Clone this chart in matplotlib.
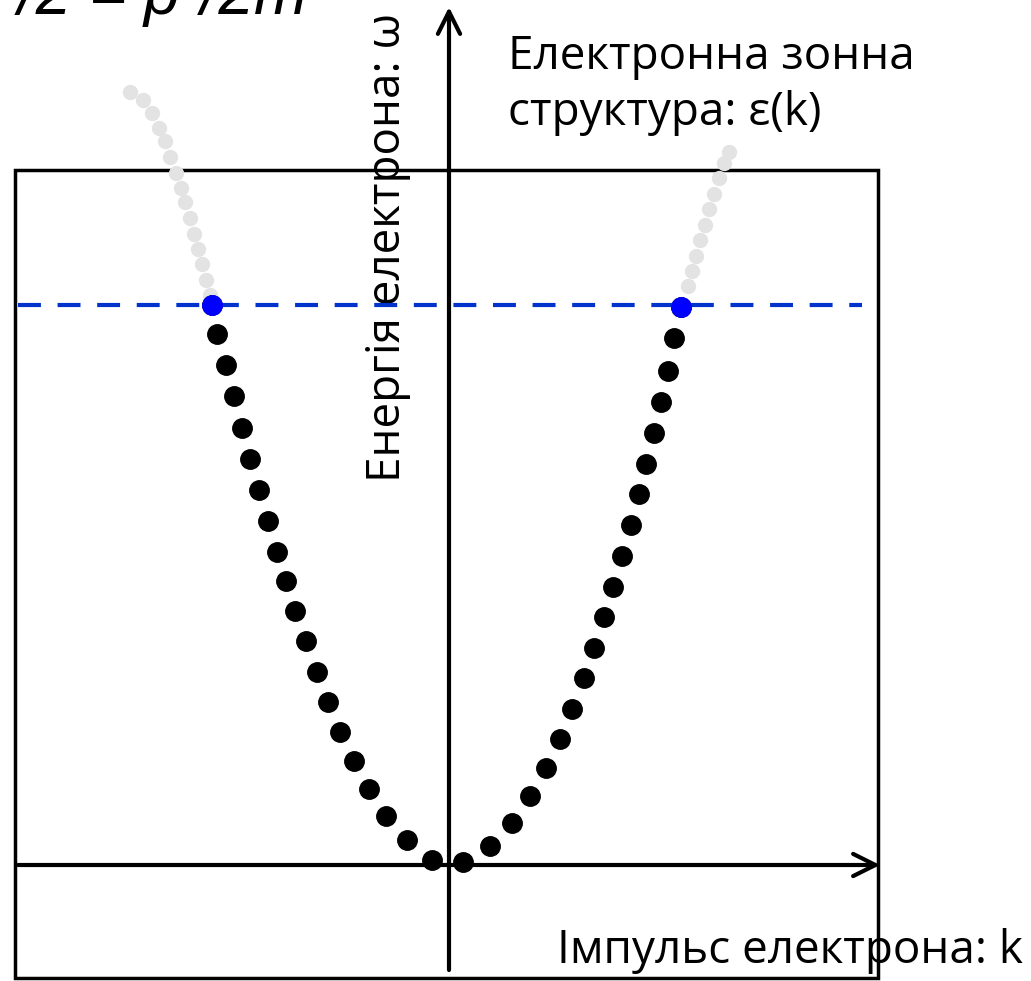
import matplotlib.pyplot as plt
from matplotlib.patches import Rectangle

# occupied states (black), filled up to the Fermi level
k_occ_left = [-2.37, -2.32, -2.23, -2.15, -2.07, -1.99, -1.90, -1.81, -1.72, -1.63,
              -1.54, -1.43, -1.32, -1.21, -1.09, -0.95, -0.80, -0.63, -0.42, -0.17]
e_occ_left = [5.60, 5.31, 5.00, 4.69, 4.37, 4.06, 3.75, 3.44, 3.13, 2.84,
              2.54, 2.24, 1.93, 1.63, 1.33, 1.04, 0.76, 0.49, 0.25, 0.05]
k_occ_right = [0.14, 0.41, 0.63, 0.81, 0.97, 1.11, 1.23, 1.35, 1.45, 1.55,
               1.64, 1.73, 1.82, 1.90, 1.97, 2.05, 2.12, 2.19, 2.25, 2.32]
e_occ_right = [0.03, 0.19, 0.42, 0.69, 0.97, 1.26, 1.56, 1.87, 2.17, 2.48,
               2.78, 3.09, 3.40, 3.71, 4.01, 4.32, 4.63, 4.94, 5.27, 5.58]

# empty states above the Fermi level (grey)
k_free_left = [-3.19, -3.06, -2.97, -2.90, -2.84, -2.79, -2.73, -2.68, -2.64, -2.59,
               -2.55, -2.51, -2.47, -2.43, -2.39]
e_free_left = [7.73, 7.65, 7.52, 7.37, 7.24, 7.08, 6.92, 6.77, 6.63, 6.47,
               6.31, 6.16, 6.01, 5.85, 5.70]
k_free_right = [2.80, 2.75, 2.70, 2.65, 2.60, 2.56, 2.51, 2.47, 2.43, 2.39]
e_free_right = [7.13, 7.02, 6.87, 6.71, 6.56, 6.40, 6.25, 6.09, 5.94, 5.79]

# Fermi points and level
k_fermi = [-2.37, 2.32]
e_fermi = [5.60, 5.58]
fermi_level = 5.60

fig = plt.figure(figsize=(10.31, 9.81), dpi=100)
ax = fig.add_axes([0, 0, 1, 1])
ax.set_xlim(-4.49, 5.82)
ax.set_ylim(-1.16, 8.65)
ax.axis('off')

font = ['Open Sans', 'DejaVu Sans']

# frame
ax.add_patch(Rectangle((-4.34, -1.13), 8.63, 8.08, fill=False, lw=2.5, ec='black', zorder=1))

# axes with arrows
ax.annotate('', xy=(4.31, 0), xytext=(-4.31, 0),
            arrowprops=dict(arrowstyle='->', lw=3, color='black',
                            mutation_scale=40, shrinkA=0, shrinkB=0), zorder=3)
ax.annotate('', xy=(0, 8.58), xytext=(0, -1.05),
            arrowprops=dict(arrowstyle='->', lw=3, color='black',
                            mutation_scale=40, shrinkA=0, shrinkB=0), zorder=3)

ax.plot(k_free_left, e_free_left, 'o', color='#e3e3e3', ms=10, zorder=2)
ax.plot(k_free_right, e_free_right, 'o', color='#e3e3e3', ms=10, zorder=2)
ax.plot(k_occ_left, e_occ_left, 'o', color='black', ms=14, zorder=4)
ax.plot(k_occ_right, e_occ_right, 'o', color='black', ms=14, zorder=4)

ax.plot([-4.31, 4.13], [fermi_level, fermi_level], color='#0033cc', lw=3,
        dashes=(5.5, 4), zorder=5)
ax.plot(k_fermi, e_fermi, 'o', color='#0000ff', ms=14, zorder=6)

ax.text(-0.61, 6.18, 'Енергія електрона: ω', rotation=90, fontsize=33,
        family=font, ha='center', va='center', zorder=2)
ax.text(0.59, 7.80, 'Електронна зонна\nструктура: ε(k)', fontsize=33,
        family=font, ha='left', va='center', linespacing=1.3)
ax.text(5.74, -0.86, 'Імпульс електрона: k', fontsize=33,
        family=font, ha='right', va='center', zorder=2)
ax.text(-1.42, 8.51, 'ħ²k²/2 = p²/2m', fontsize=46, style='italic',
        family=['Liberation Sans', 'DejaVu Sans'], ha='right', va='baseline')

fig.savefig('out.png', dpi=100)
